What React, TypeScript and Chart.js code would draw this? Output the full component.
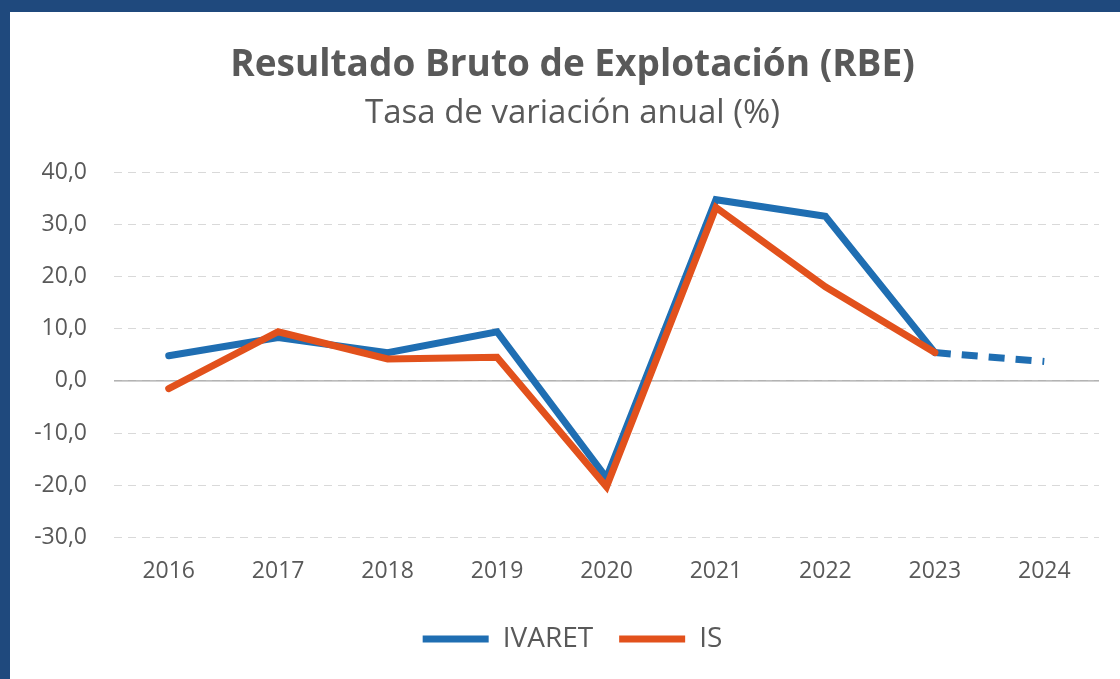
import React, { useEffect, useRef } from "react";
import { Chart, registerables } from "chart.js";

Chart.register(...registerables);

const years = ["2016", "2017", "2018", "2019", "2020", "2021", "2022", "2023", "2024"];
const ivaretValues = [4.8, 8.3, 5.4, 9.4, -18.6, 34.7, 31.5, 5.4, 3.7];
const isValues: (number | null)[] = [-1.5, 9.4, 4.2, 4.5, -20.3, 33.2, 18.0, 5.4, null];
const yTicks = [40, 30, 20, 10, 0, -10, -20, -30];

const BLUE = "#1F6EB2";
const ORANGE = "#E2511C";
const TEXT = "#595959";
const FONT = "'Open Sans', 'Noto Sans', sans-serif";

const zeroLinePlugin = {
  id: "zeroLine",
  beforeDatasetsDraw(chart: any) {
    const y = chart.scales.y;
    const area = chart.chartArea;
    const py = y.getPixelForValue(0);
    const ctx = chart.ctx;
    ctx.save();
    ctx.strokeStyle = "#A6A6A6";
    ctx.lineWidth = 1.3;
    ctx.beginPath();
    ctx.moveTo(area.left, py);
    ctx.lineTo(area.right, py);
    ctx.stroke();
    ctx.restore();
  },
};

export default function App() {
  const ref = useRef<HTMLCanvasElement | null>(null);

  useEffect(() => {
    if (!ref.current) return;
    const chart = new Chart(ref.current, {
      type: "line",
      data: {
        labels: years,
        datasets: [
          {
            label: "IVARET",
            data: ivaretValues,
            borderColor: BLUE,
            backgroundColor: BLUE,
            borderWidth: 7,
            pointRadius: 0,
            borderCapStyle: "round",
            borderJoinStyle: "miter",
            order: 1,
            segment: {
              borderDash: (c: any) => (c.p1DataIndex === years.length - 1 ? [16, 11] : undefined),
              borderCapStyle: (c: any) => (c.p1DataIndex === years.length - 1 ? "butt" : undefined),
            },
          },
          {
            label: "IS",
            data: isValues,
            borderColor: ORANGE,
            backgroundColor: ORANGE,
            borderWidth: 7,
            pointRadius: 0,
            borderCapStyle: "round",
            borderJoinStyle: "miter",
            order: 0,
          },
        ],
      },
      options: {
        animation: false,
        responsive: false,
        maintainAspectRatio: false,
        layout: { padding: { left: 15, right: 0, top: 26, bottom: 16 } },
        plugins: {
          title: {
            display: true,
            text: "Resultado Bruto de Explotación (RBE)",
            color: TEXT,
            font: { family: FONT, size: 37, weight: "bold" },
            padding: { top: 5, bottom: 6 },
          },
          subtitle: {
            display: true,
            text: "Tasa de variación anual (%)",
            color: TEXT,
            font: { family: FONT, size: 33 },
            padding: { top: 0, bottom: 39 },
          },
          legend: {
            position: "bottom",
            labels: {
              color: TEXT,
              font: { family: FONT, size: 28 },
              boxWidth: 66,
              boxHeight: 7,
              padding: 26,
              sort: (a: any, b: any) => a.datasetIndex - b.datasetIndex,
              generateLabels: (chart: any) =>
                chart.data.datasets.map((ds: any, i: number) => ({
                  text: ds.label,
                  fillStyle: ds.borderColor,
                  strokeStyle: ds.borderColor,
                  lineWidth: 0,
                  fontColor: TEXT,
                  datasetIndex: i,
                  hidden: false,
                })),
            },
          },
          tooltip: { enabled: false },
        },
        scales: {
          x: {
            offset: true,
            grid: { display: false, drawTicks: false },
            border: { display: false },
            ticks: { color: TEXT, font: { family: FONT, size: 23 }, padding: 20 },
            afterFit: (scale: any) => {
              scale.height -= 6;
            },
          },
          y: {
            min: -30,
            max: 40,
            afterBuildTicks: (scale: any) => {
              scale.ticks = yTicks.map((v) => ({ value: v }));
            },
            afterFit: (scale: any) => {
              scale.width = 89;
            },
            grid: { color: "#D9D9D9", lineWidth: 1, drawTicks: false },
            border: { display: false, dash: [8, 6] },
            ticks: {
              color: TEXT,
              font: { family: FONT, size: 23 },
              padding: 27,
              callback: (v: any) => Number(v).toFixed(1).replace(".", ","),
            },
          },
          y2: {
            position: "right",
            display: true,
            grid: { display: false, drawTicks: false },
            border: { display: false },
            ticks: { display: false },
            afterFit: (scale: any) => {
              scale.width = 21;
            },
          },
        },
      },
      plugins: [zeroLinePlugin],
    });
    return () => chart.destroy();
  }, []);

  return (
    <div
      style={{
        position: "fixed",
        left: 0,
        top: 0,
        width: 1120,
        height: 679,
        background: "#1F497D",
        overflow: "hidden",
      }}
    >
      <div
        style={{
          position: "absolute",
          left: 10,
          top: 12,
          width: 1110,
          height: 667,
          background: "#FFFFFF",
        }}
      >
        <canvas ref={ref} width={1110} height={667} style={{ display: "block" }} />
      </div>
    </div>
  );
}
